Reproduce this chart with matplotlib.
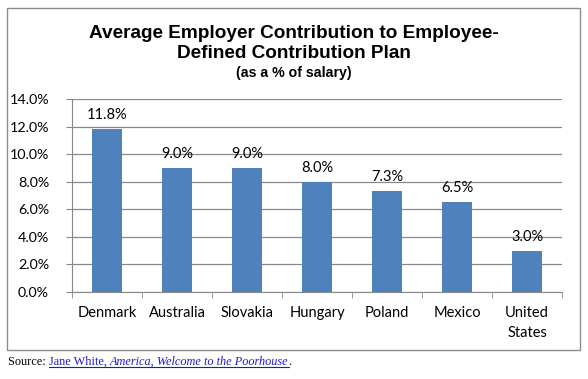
import matplotlib
matplotlib.use("Agg")
import matplotlib.pyplot as plt
from matplotlib.patches import Rectangle
from matplotlib.lines import Line2D

categories = ["Denmark", "Australia", "Slovakia", "Hungary", "Poland", "Mexico", "United\nStates"]
values = [11.8, 9.0, 9.0, 8.0, 7.3, 6.5, 3.0]
yticks = [0, 2, 4, 6, 8, 10, 12, 14]

W, H = 588, 379
fig = plt.figure(figsize=(W/100, H/100), dpi=100)
fig.patch.set_facecolor("white")

# outer frame
fig.patches.append(Rectangle((7/W, 1-350/H), (580-7)/W, (350-8)/H, transform=fig.transFigure,
                             fill=False, edgecolor="#8c8c8c", linewidth=1.0))

ax = fig.add_axes([72/W, 1-292/H, (562-72)/W, (292-99)/H])
x = list(range(len(categories)))
ax.bar(x, values, width=0.42, color="#4F81BD", zorder=3)
ax.set_xlim(-0.5, len(categories)-0.5)
ax.set_ylim(0, 14)
ax.set_yticks(yticks)
ax.set_yticklabels([f"{v:.1f}%" for v in yticks], fontfamily="Lato", fontsize=10.3)
ax.yaxis.grid(True, color="#888888", linewidth=0.9, zorder=0)
ax.set_xticks(x)
ax.set_xticklabels(categories, fontfamily="Lato", fontsize=10.5, linespacing=1.55)
ax.set_xticks([i+0.5 for i in range(-1, len(categories))], minor=True)
ax.tick_params(axis="x", which="major", length=0, pad=10)
ax.tick_params(axis="x", which="minor", length=4.5, color="#888888")
ax.tick_params(axis="y", length=4.5, color="#888888", pad=12)
for s in ["top", "right"]:
    ax.spines[s].set_visible(False)
for s in ["left", "bottom"]:
    ax.spines[s].set_color("#888888")
for xi, v in zip(x, values):
    ax.annotate(f"{v:.1f}%", (xi, v), xytext=(0, 5), textcoords="offset points",
                ha="center", va="bottom", fontfamily="Lato", fontsize=10.5, zorder=4)

fig.text(0.5, 1-33/H, "Average Employer Contribution to Employee-", ha="center", va="center",
         fontfamily="Liberation Sans", fontweight="bold", fontsize=13.7)
fig.text(0.5, 1-53/H, "Defined Contribution Plan", ha="center", va="center",
         fontfamily="Liberation Sans", fontweight="bold", fontsize=13.7)
fig.text(0.5, 1-73/H, "(as a % of salary)", ha="center", va="center",
         fontfamily="Liberation Sans", fontweight="bold", fontsize=10.2)

# source line
fig.canvas.draw()
r = fig.canvas.get_renderer()
ypix = H - 365
xpix = 8
parts = [("Source: ", "black", "normal", False),
         ("Jane White, ", "#1a1acc", "normal", True),
         ("America, Welcome to the Poorhouse", "#1a1acc", "italic", True),
         (".", "black", "normal", False)]
for txt, col, style, ul in parts:
    t = fig.text(xpix/W, ypix/H, txt, ha="left", va="baseline", color=col,
                 fontfamily="Liberation Serif", fontstyle=style, fontsize=8.8)
    bb = t.get_window_extent(renderer=r)
    if ul:
        y0 = (ypix - 2)/H
        fig.lines.append(Line2D([bb.x0/W, bb.x1/W], [y0, y0], transform=fig.transFigure,
                                color=col, linewidth=0.8))
    xpix = bb.x1

fig.savefig("out.png", dpi=100)
